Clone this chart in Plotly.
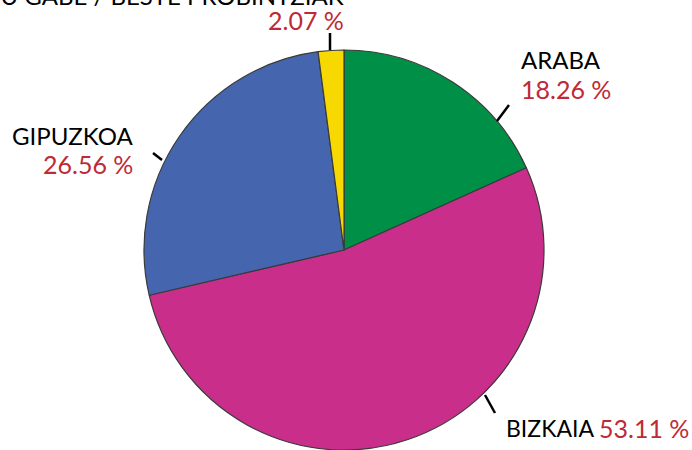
import plotly.graph_objects as go

# Data
labels = ["ARABA", "BIZKAIA", "GIPUZKOA", "ZEHAZTU GABE / BESTE PROBINTZIAK"]
values = [18.26, 53.11, 26.56, 2.07]
colors = ["#008F47", "#C92F8A", "#4566AE", "#F7D800"]

W, H = 692, 450
RED = "#BE2A35"
FONT = "Lato"


def px(x, y):
    return x / W, 1 - y / H


def pct(v):
    return f"{v:.2f} %"


cx, cy, r = 344, 251, 201
dx0, dy1 = px(cx - r, cy - r)
dx1, dy0 = px(cx + r, cy + r)

fig = go.Figure(go.Pie(
    labels=labels,
    values=values,
    sort=False,
    direction="clockwise",
    rotation=0,
    textinfo="none",
    marker=dict(colors=colors, line=dict(color="#3a3a3a", width=1.2)),
    domain=dict(x=[dx0, dx1], y=[max(dy0, 0), dy1]),
    showlegend=False,
))

annos = []


def add_text(text, x, y, xanchor, color="black", size=24):
    ax, ay = px(x, y)
    annos.append(dict(text=text, x=ax, y=ay, xref="paper", yref="paper",
                      xanchor=xanchor, yanchor="middle", showarrow=False,
                      font=dict(family=FONT, size=size, color=color)))


# top label (partly above the page)
add_text(labels[3], 346, -5, "right")
add_text(pct(values[3]), 346, 20, "right", RED, 25)
# ARABA
add_text(labels[0], 519, 60, "left")
add_text(pct(values[0]), 519, 89, "left", RED, 25)
# GIPUZKOA
add_text(labels[2], 135, 135, "right")
add_text(pct(values[2]), 135, 164, "right", RED, 25)
# BIZKAIA
add_text(labels[1], 504, 428, "left", size=23)
add_text(pct(values[1]), 691, 428, "right", RED, 25)

ticks = [((330, 33), (330, 50)), ((497, 121), (509, 105)),
         ((153, 153), (162, 160)), ((485, 395), (495, 413))]
shapes = []
for (x0, y0), (x1, y1) in ticks:
    a0, b0 = px(x0, y0)
    a1, b1 = px(x1, y1)
    shapes.append(dict(type="line", xref="paper", yref="paper", x0=a0, y0=b0, x1=a1, y1=b1,
                       line=dict(color="black", width=2.5)))

fig.update_layout(
    width=W, height=H,
    margin=dict(l=0, r=0, t=0, b=0),
    paper_bgcolor="white",
    plot_bgcolor="white",
    annotations=annos,
    shapes=shapes,
)

fig.write_html("out.html", config={"displayModeBar": False},
               post_script="document.body.style.margin='0';document.body.style.overflow='hidden';")
